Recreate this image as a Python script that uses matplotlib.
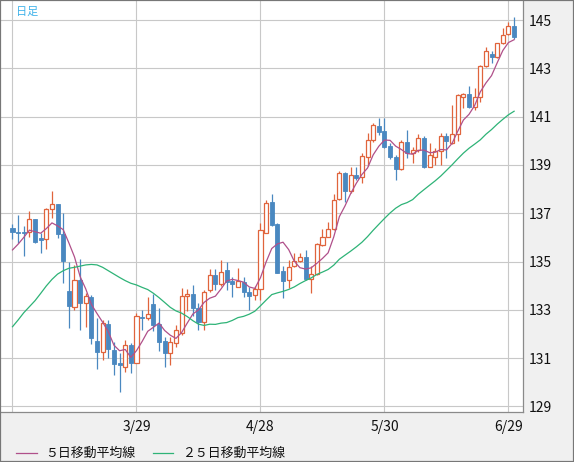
import matplotlib
matplotlib.use('Agg')
import matplotlib.pyplot as plt
import numpy as np
import pandas as pd
from matplotlib.lines import Line2D
from matplotlib.patches import Rectangle

plt.rcParams['font.family'] = ['Noto Sans CJK JP', 'DejaVu Sans']

opens = [136.37, 136.22, 136.21, 136.21, 136.76, 135.97, 135.92, 137.16, 137.38, 136.14,
         133.78, 133.13, 134.24, 133.27, 133.52, 131.71, 131.27, 132.41, 131.34, 130.81,
         130.62, 131.54, 130.81, 132.72, 132.65, 133.24, 132.41, 131.72, 131.20, 131.64,
         132.05, 133.57, 133.65, 133.09, 132.51, 133.82, 134.43, 134.06, 134.65, 134.19,
         133.96, 134.14, 133.74, 133.61, 133.85, 136.19, 137.45, 136.55, 134.61, 134.24,
         134.81, 135.03, 135.17, 134.26, 134.47, 135.67, 136.03, 136.33, 137.57, 138.68,
         137.93, 138.57, 138.49, 139.34, 140.03, 140.61, 140.40, 139.78, 139.31, 138.82,
         139.96, 139.51, 139.62, 140.10, 138.93, 139.31, 139.59, 140.20, 139.92, 140.28,
         141.80, 141.92, 141.38, 141.83, 143.10, 143.59, 143.45, 144.03, 144.41, 144.75]
highs = [136.55, 136.93, 136.47, 137.09, 136.78, 136.17, 137.23, 137.92, 137.40, 137.00,
         135.00, 134.86, 135.09, 133.68, 133.61, 132.65, 132.58, 132.58, 131.68, 131.22,
         131.75, 131.61, 132.85, 132.99, 133.54, 133.65, 133.06, 131.89, 131.89, 132.37,
         133.89, 133.85, 134.03, 133.27, 133.82, 134.68, 134.68, 135.06, 134.99, 134.37,
         134.72, 134.37, 133.96, 133.99, 136.58, 137.55, 137.80, 136.61, 134.81, 135.06,
         135.34, 135.34, 135.48, 134.81, 135.75, 136.33, 136.65, 137.80, 138.76, 138.72,
         138.93, 138.93, 139.51, 140.31, 140.72, 140.93, 140.93, 139.89, 139.41, 140.03,
         140.44, 139.75, 140.27, 140.20, 139.92, 139.69, 140.31, 140.31, 141.48, 141.92,
         141.99, 142.27, 142.17, 143.14, 143.90, 143.73, 144.06, 144.65, 144.93, 145.11]
lows = [135.92, 135.75, 135.23, 136.00, 135.75, 135.37, 135.52, 136.79, 135.96, 134.10,
        132.26, 133.00, 132.16, 132.30, 131.57, 130.53, 130.92, 130.99, 130.30, 129.61,
        130.44, 130.40, 130.78, 132.16, 132.58, 132.14, 131.31, 130.62, 130.72, 131.47,
        131.96, 132.96, 132.74, 132.16, 132.16, 133.75, 133.82, 133.99, 133.82, 133.54,
        133.93, 133.54, 132.99, 133.41, 133.41, 136.17, 136.48, 134.51, 133.48, 133.89,
        134.76, 134.99, 134.24, 133.71, 134.44, 135.64, 136.00, 136.30, 137.55, 137.48,
        137.82, 138.37, 138.24, 138.95, 139.96, 140.24, 139.69, 139.23, 138.37, 138.79,
        139.27, 139.09, 139.55, 138.86, 138.90, 138.99, 138.99, 139.27, 139.85, 140.00,
        141.34, 141.34, 141.27, 141.62, 143.07, 143.21, 143.41, 144.00, 144.38, 144.20]
closes = [136.21, 136.20, 136.19, 136.75, 135.82, 135.90, 137.16, 137.37, 136.13, 135.04,
          133.17, 134.24, 133.30, 133.57, 131.85, 131.27, 132.44, 131.36, 130.76, 130.70,
          131.54, 130.81, 132.74, 132.66, 132.81, 132.37, 131.68, 131.20, 131.68, 132.16,
          133.57, 133.64, 133.09, 132.51, 133.74, 134.43, 134.06, 134.58, 134.17, 134.07,
          134.19, 133.72, 133.59, 133.86, 136.30, 137.44, 136.51, 134.54, 134.21, 134.78,
          135.02, 135.17, 134.26, 134.47, 135.71, 136.03, 136.33, 137.55, 138.68, 137.93,
          138.57, 138.47, 139.37, 140.03, 140.65, 140.35, 139.75, 139.31, 138.82, 139.96,
          139.51, 139.62, 140.10, 138.90, 139.41, 139.59, 140.20, 140.00, 140.28, 141.89,
          141.92, 141.38, 141.83, 143.10, 143.73, 143.45, 144.03, 144.38, 144.75, 144.31]

ma5_head = [135.48, 135.72, 136.00, 136.30]
ma25_head = [132.30, 132.58, 132.88, 133.13, 133.38, 133.68, 133.99, 134.26, 134.48, 134.62,
             134.72, 134.76, 134.81, 134.86, 134.88, 134.86, 134.76, 134.62, 134.48, 134.34,
             134.21, 134.10, 134.03, 133.93]

tick_pos = [0, 22, 44, 66, 88]
tick_labels = ['', '3/29', '4/28', '5/30', '6/29']
y_ticks = list(range(129, 146, 2))
legend_labels = ['５日移動平均線', '２５日移動平均線']

UP = '#e0643c'
DOWN = '#4a88c0'
MA5_C = '#b0508a'
MA25_C = '#2eb377'

W, H = 574, 462
fig = plt.figure(figsize=(W / 100, H / 100), dpi=100, facecolor='#f0f0f0')
ax = fig.add_axes([1 / W, 50 / H, 522 / W, 411 / H])
ax.set_facecolor('white')

n = len(closes)
x = np.arange(n)
o = np.array(opens); c = np.array(closes); h = np.array(highs); l = np.array(lows)
up = c >= o

ax.vlines(x[up], l[up], h[up], color=UP, lw=0.9, zorder=2)
ax.vlines(x[~up], l[~up], h[~up], color=DOWN, lw=0.9, zorder=2)
bw = 0.72
bot = np.minimum(o, c)
hgt = np.maximum(np.abs(c - o), 0.02)
ax.bar(x[up], hgt[up], bottom=bot[up], width=bw, facecolor='white', edgecolor=UP, lw=0.9, zorder=3)
ax.bar(x[~up], hgt[~up], bottom=bot[~up], width=bw, facecolor=DOWN, edgecolor=DOWN, lw=0.6, zorder=3)

s = pd.Series(closes)
ma5 = s.rolling(5).mean().to_numpy()
ma5[:len(ma5_head)] = ma5_head
ma25 = s.rolling(25).mean().to_numpy()
ma25[:len(ma25_head)] = ma25_head
ax.plot(x, ma5, color=MA5_C, lw=0.9, zorder=4)
ax.plot(x, ma25, color=MA25_C, lw=0.9, zorder=4)

ax.set_xlim(-2.04, 90.58)
ax.set_ylim(128.77, 145.787)
ax.set_xticks(tick_pos)
ax.set_xticklabels(tick_labels)
ax.set_yticks(y_ticks)
ax.set_yticklabels([str(v) for v in y_ticks])
ax.yaxis.tick_right()
ax.tick_params(axis='both', length=0, labelsize=10, colors='#111111')
ax.tick_params(axis='y', pad=4)
ax.tick_params(axis='x', pad=6)
ax.grid(True, color='#c8c8c8', lw=0.8, zorder=0)
ax.set_axisbelow(True)
for sp in ['left', 'top']:
    ax.spines[sp].set_visible(False)
for sp in ['right', 'bottom']:
    ax.spines[sp].set_color('#8a8a8a')
    ax.spines[sp].set_linewidth(0.9)

ax.text(15 / 522, 1 - 10.5 / 411, '日足', transform=ax.transAxes, fontsize=8,
        color='#3fb2ea', ha='left', va='center')

# legend at bottom
ly = 1 - 453 / H
fig.add_artist(Line2D([16 / W, 37 / W], [ly, ly], color=MA5_C, lw=0.9))
fig.text(45 / W, ly, legend_labels[0], fontsize=9.3, ha='left', va='center', color='#111111')
fig.add_artist(Line2D([153 / W, 173 / W], [ly, ly], color=MA25_C, lw=0.9))
fig.text(182 / W, ly, legend_labels[1], fontsize=9.3, ha='left', va='center', color='#111111')

# outer frame
fig.add_artist(Rectangle((0, 0), 1, 1, transform=fig.transFigure, fill=False,
                         edgecolor='#777777', lw=1.6))

fig.savefig('out.png', dpi=100, facecolor=fig.get_facecolor())
